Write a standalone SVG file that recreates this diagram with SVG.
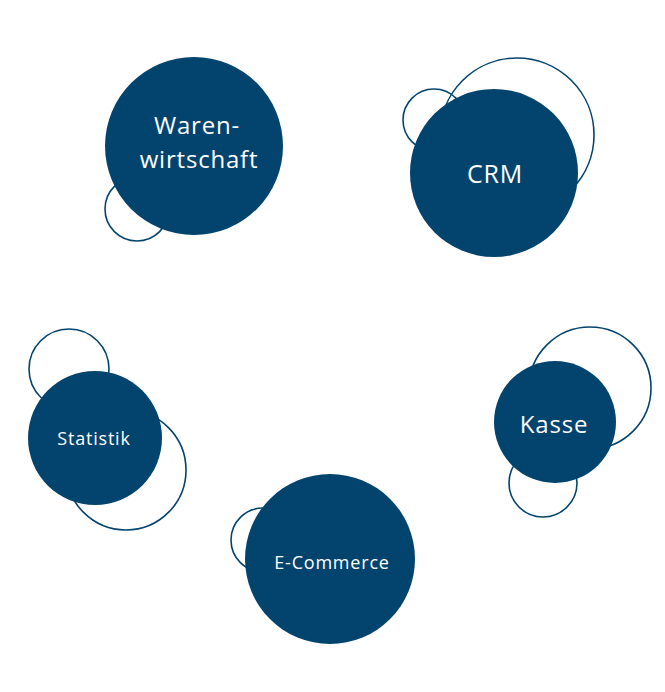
<svg xmlns="http://www.w3.org/2000/svg" width="665" height="692" viewBox="0 0 665 692">
<style>
.o{fill:none;stroke:#03446f;stroke-width:1.6}
.f{fill:#03446f}
text{fill:#fff;font-family:"Open Sans","Liberation Sans",sans-serif;text-anchor:middle;letter-spacing:0.8px}
</style>
<rect width="665" height="692" fill="#fff"/>
<g id="warenwirtschaft">
<circle class="o" cx="137" cy="209" r="32"/>
<circle class="f" cx="194" cy="146" r="89"/>
<text x="197" y="134" font-size="24">Waren-</text>
<text x="199" y="168" font-size="24">wirtschaft</text>
</g>
<g id="crm">
<circle class="o" cx="517" cy="135" r="77"/>
<circle class="o" cx="434" cy="120" r="31"/>
<circle class="f" cx="494" cy="173" r="84"/>
<text x="495" y="183" font-size="25">CRM</text>
</g>
<g id="kasse">
<circle class="o" cx="590" cy="388" r="61"/>
<circle class="o" cx="543" cy="483" r="34"/>
<circle class="f" cx="555" cy="422" r="61"/>
<text x="554" y="433" font-size="24">Kasse</text>
</g>
<g id="statistik">
<circle class="o" cx="69" cy="369" r="40"/>
<circle class="o" cx="126" cy="470" r="60"/>
<circle class="f" cx="95" cy="438" r="67"/>
<text x="94" y="445" font-size="18">Statistik</text>
</g>
<g id="ecommerce">
<circle class="o" cx="263" cy="540" r="32"/>
<circle class="f" cx="330" cy="559" r="85"/>
<text x="332" y="569" font-size="18">E-Commerce</text>
</g>
<g id="connectors"/>
</svg>
